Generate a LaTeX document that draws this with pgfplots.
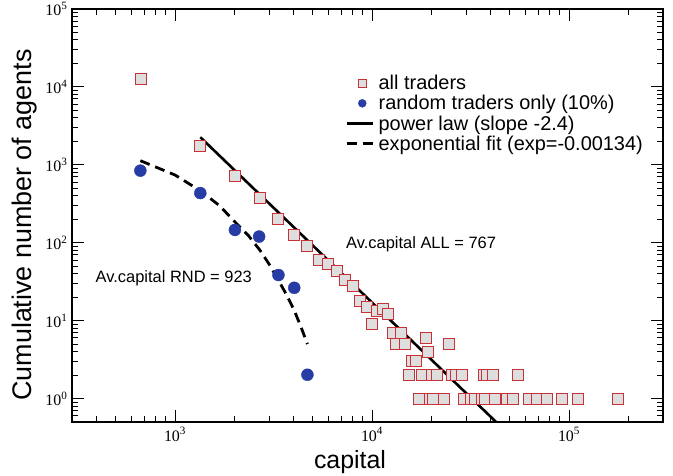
\documentclass[border=0pt]{standalone}
\usepackage{pgfplots}
\pgfplotsset{compat=1.18}
\usepackage{fontspec}
\setmainfont{Liberation Sans}
\newfontfamily\tickfont{Liberation Serif}
\definecolor{sqred}{RGB}{200,50,55}
\definecolor{sqfill}{RGB}{222,222,222}
\definecolor{dotblue}{RGB}{40,60,165}
\pgfplotsset{
  marklegend/.style={legend image code/.code={\path[draw=none,fill=none] (0bp,0bp) -- (26bp,0bp); \draw[##1, only marks, mark size=4bp] plot coordinates {(15bp,0bp)};}},
  linelegend/.style={legend image code/.code={\draw[##1] (0bp,0bp) -- (26bp,0bp);}},
}

\pgfplotstableread{
x y
673 12700
1344 1767
2014 726
2700 381
3350 201
4000 126
4650 90
5390 59.5
5960 54
6630 43
7320 33
7960 27.7
8650 17.8
9380 15
10000 9.1
10640 13.3
11350 14.2
12040 12.2
12830 7
13970 7
13180 5
14640 5
16000 3
16650 3
18700 6
19300 4
24550 5
15390 2
17990 2
20220 2
21430 2
25330 2
26550 2
28690 2
36920 2
38410 2
41200 2
55170 2
17290 1
19670 1
20460 1
23160 1
29460 1
31620 1
33500 1
36230 1
37650 1
42310 1
48480 1
52030 1
62380 1
69060 1
77600 1
92470 1
111400 1
177800 1
}\alltraders

\pgfplotstableread{
x y
667 842
1344 434
2014 146
2673 120
3350 38.5
4030 26.4
4700 2.02
}\rndtraders

\pgfplotstableread{
x y
1344 2262
42660 0.5
}\powerlaw

\pgfplotstableread{
x y
667 1130
1000 740
1344 465
1680 300
2014 185
2350 125
2700 80
3020 52
3350 33
3700 21
4030 13.5
4360 8.3
4700 5.0
}\expfit

\begin{document}
\begin{tikzpicture}
\begin{axis}[
 scale only axis, width=591bp, height=413bp,
 xmode=log, ymode=log,
 xmin=300, xmax=300000, ymin=0.5, ymax=100000,
 xtick={1000,10000,100000},
 ytick={1,10,100,1000,10000,100000},
 minor xtick={400,500,600,700,800,900,2000,3000,4000,5000,6000,7000,8000,9000,20000,30000,40000,50000,60000,70000,80000,90000,200000},
 minor ytick={0.6,0.7,0.8,0.9,2,3,4,5,6,7,8,9,20,30,40,50,60,70,80,90,200,300,400,500,600,700,800,900,2000,3000,4000,5000,6000,7000,8000,9000,20000,30000,40000,50000,60000,70000,80000,90000},
 xticklabel={\pgfmathtruncatemacro\e{round(\tick/ln(10))}10\textsuperscript{\e}},
 yticklabel={\pgfmathtruncatemacro\e{round(\tick/ln(10))}10\textsuperscript{\e}},
 ticklabel style={font=\fontsize{16}{16}\selectfont\tickfont},
 xticklabel style={yshift=-2bp},
 yticklabel style={xshift=-1bp},
 major tick length=12bp, minor tick length=6bp,
 tick style={black, line width=1bp},
 axis line style={line width=1.3bp},
 clip=true,
 legend style={at={(0.458,0.85)}, anchor=north west, draw=none, fill=none,
   font=\fontsize{20}{20}\selectfont, row sep=0.3bp,
   /tikz/every odd column/.append style={column sep=2bp}},
 legend cell align=left,
]
\addplot[only marks, mark=square*, mark size=5.5bp, mark options={draw=sqred, fill=sqfill, line width=0.9bp}, marklegend]
  table {\alltraders};
\addlegendentry{all traders}
\addplot[only marks, mark=*, mark size=6bp, mark options={draw=dotblue, fill=dotblue}, marklegend]
  table {\rndtraders};
\addlegendentry{random traders only (10\%)}
\addplot[black, line width=2.6bp, no marks, linelegend]
  table {\powerlaw};
\addlegendentry{power law (slope -2.4)}
\addplot[black, line width=2.8bp, no marks, dash pattern=on 10bp off 6bp, linelegend]
  table {\expfit};
\addlegendentry{exponential fit (exp=-0.00134)}
\node[anchor=west, font=\fontsize{16.5}{16.5}\selectfont] at (axis cs:7100,96.5) {Av.capital ALL = 767};
\node[anchor=west, font=\fontsize{16.5}{16.5}\selectfont] at (axis cs:380,35.2) {Av.capital RND = 923};
\end{axis}
\node[rotate=90, font=\fontsize{27}{27}\selectfont] at (-47bp,197bp) {Cumulative number of agents};
\node[anchor=base, font=\fontsize{25}{25}\selectfont] at (278bp,-46bp) {capital};
\pgfresetboundingbox
\path[use as bounding box] (-72bp,-54bp) rectangle (601bp,422bp);
\end{tikzpicture}
\end{document}
